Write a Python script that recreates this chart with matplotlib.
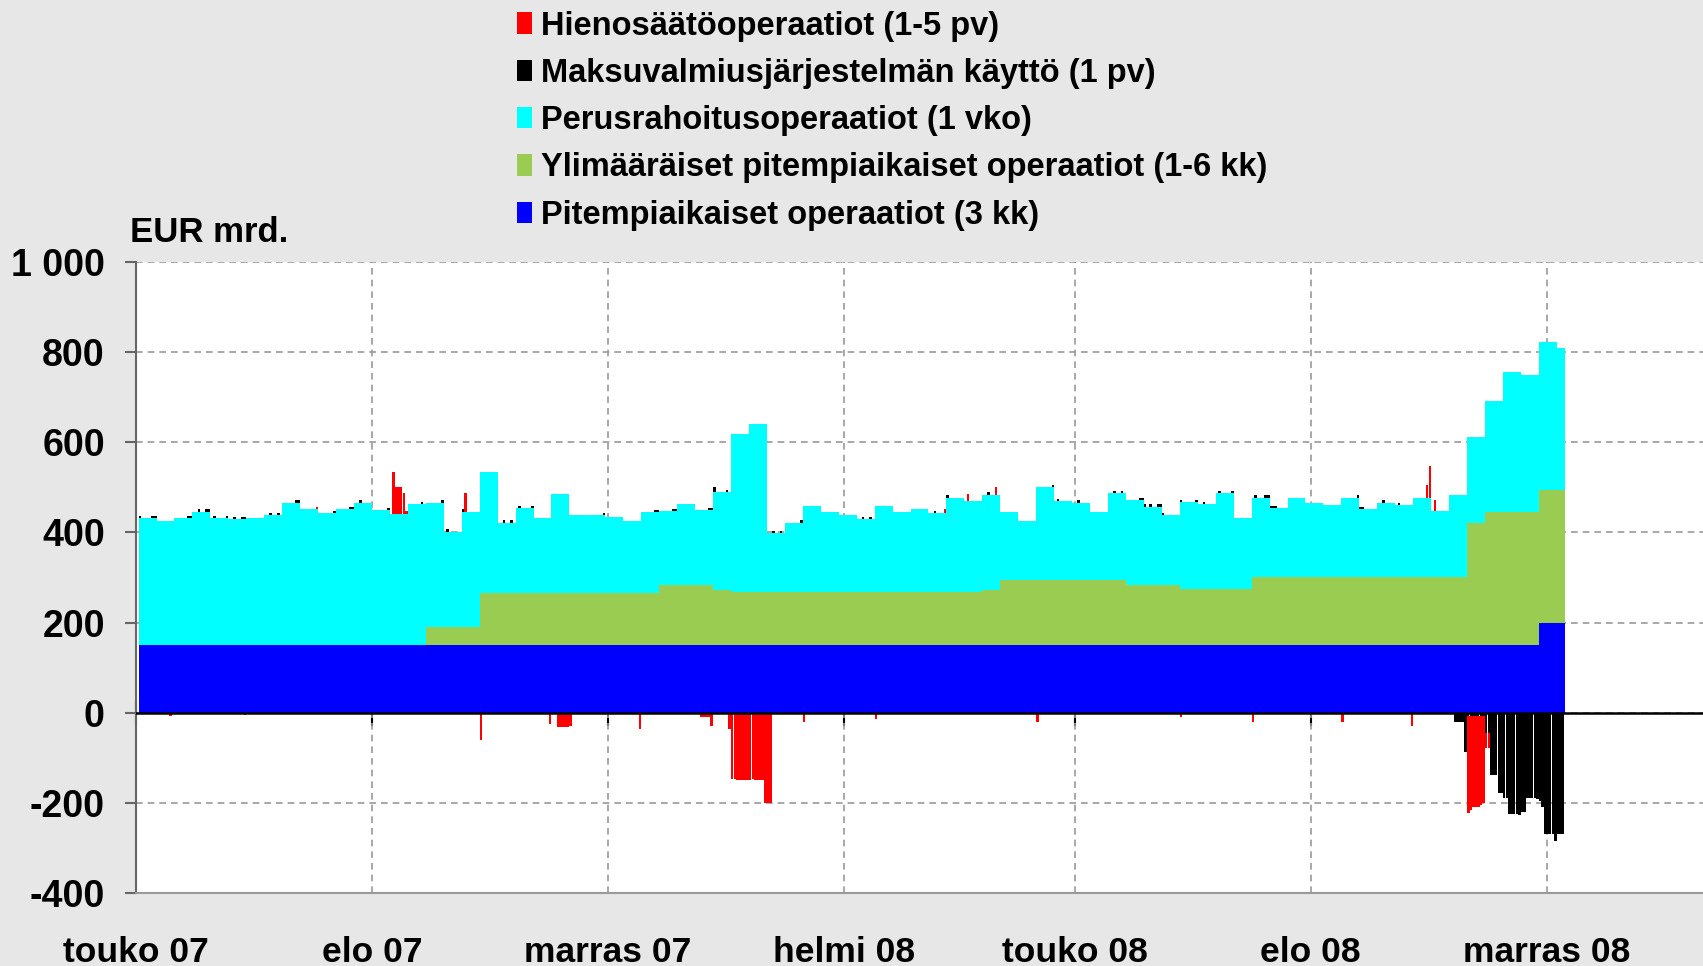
import numpy as np
import pandas as pd
import matplotlib
matplotlib.use("Agg")
import matplotlib.pyplot as plt
import matplotlib.dates as mdates
from matplotlib.patches import Patch

plt.rcParams['font.family'] = ['Liberation Sans', 'DejaVu Sans']
plt.rcParams['axes.unicode_minus'] = False

# ---------------- data (EUR bn) ----------------
first_week = "2007-05-02"          # weekly main refinancing settlement (Wednesdays)
data_end = "2008-11-08"

# Pitempiaikaiset operaatiot (3 kk) per week
ltro = [150, 150, 150, 150, 150, 150, 150, 150, 150, 150,
        150, 150, 150, 150, 150, 150, 150, 150, 150, 150,
        150, 150, 150, 150, 150, 150, 150, 150, 150, 150,
        150, 150, 150, 150, 150, 150, 150, 150, 150, 150,
        150, 150, 150, 150, 150, 150, 150, 150, 150, 150,
        150, 150, 150, 150, 150, 150, 150, 150, 150, 150,
        150, 150, 150, 150, 150, 150, 150, 150, 150, 150,
        150, 150, 150, 150, 150, 150, 150, 150, 200, 200]

# Ylimääräiset pitempiaikaiset operaatiot (1-6 kk) per week
sltro = [0, 0, 0, 0, 0, 0, 0, 0, 0, 0,
         0, 0, 0, 0, 0, 0, 40, 40, 40, 115,
         115, 115, 115, 115, 115, 115, 115, 115, 115, 133,
         133, 133, 122, 118, 118, 118, 118, 118, 118, 118,
         118, 118, 118, 118, 118, 118, 118, 122, 145, 145,
         145, 145, 145, 145, 145, 133, 133, 133, 125, 125,
         125, 125, 150, 150, 150, 150, 150, 150, 150, 150,
         150, 150, 150, 150, 270, 296, 296, 296, 294, 294]

# Perusrahoitusoperaatiot (1 vko) per week
mro = [281, 276, 281, 296, 282, 279, 283, 288, 316, 301,
       292, 302, 316, 300, 290, 312, 276, 212, 256, 268,
       157, 189, 166, 220, 174, 174, 169, 161, 180, 165,
       179, 167, 218, 350, 372, 131, 154, 190, 178, 170,
       161, 190, 178, 185, 174, 209, 202, 212, 151, 131,
       206, 175, 171, 151, 192, 189, 174, 156, 193, 188,
       212, 156, 177, 154, 177, 166, 161, 177, 151, 166,
       161, 177, 148, 182, 192, 246, 311, 303, 328, 316]

# Hienosäätöoperaatiot (1-5 pv), liquidity providing: start date, days, amount
ft_pos_dates = ["2007-07-10", "2007-08-09", "2007-08-10", "2007-08-13", "2007-08-14",
                "2007-09-06", "2008-03-11", "2008-03-20", "2008-03-31",
                "2008-09-15", "2008-09-16", "2008-09-18"]
ft_pos_days = [1, 1, 3, 1, 1, 1, 1, 1, 1, 1, 1, 1]
ft_pos_vals = [5, 95, 61, 48, 8, 42, 11, 16, 17, 28, 71, 25]

# Hienosäätöoperaatiot, liquidity absorbing
ft_neg_dates = ["2007-05-14", "2007-06-12", "2007-09-12", "2007-10-09", "2007-10-12",
                "2007-10-15", "2007-10-16", "2007-10-17", "2007-11-13", "2007-12-07",
                "2007-12-10", "2007-12-11", "2007-12-18", "2007-12-19", "2007-12-20",
                "2007-12-21", "2007-12-24", "2007-12-27", "2007-12-28", "2007-12-31",
                "2008-01-01", "2008-01-16", "2008-02-13", "2008-04-16", "2008-06-11",
                "2008-07-09", "2008-08-13", "2008-09-09", "2008-10-01", "2008-10-02",
                "2008-10-03", "2008-10-06", "2008-10-07", "2008-10-08", "2008-10-09"]
ft_neg_days = [1, 1, 1, 1, 3, 1, 1, 1, 1, 3,
               1, 1, 1, 1, 1, 3, 3, 1, 3, 1,
               3, 1, 1, 1, 1, 1, 1, 1, 1, 1,
               3, 1, 1, 1, 1]
ft_neg_vals = [-7, -4, -60, -24, -31, -32, -31, -29, -36, -9,
               -9, -29, -37, -148, -148, -150, -150, -148, -150, -150,
               -200, -20, -15, -20, -10, -20, -20, -30, -214, -207,
               -202, -197, -192, -33, -33]

# Maksuvalmiusjärjestelmän käyttö (1 pv): marginal lending (positive)
ml_dates = ["2007-05-02", "2007-05-07", "2007-05-08", "2007-05-21", "2007-05-22",
            "2007-05-25", "2007-05-28", "2007-05-29", "2007-05-31", "2007-06-05",
            "2007-06-08", "2007-06-11", "2007-06-12", "2007-06-22", "2007-06-25",
            "2007-07-02", "2007-07-03", "2007-07-17", "2007-07-23", "2007-07-24",
            "2007-07-27", "2007-08-07", "2007-08-20", "2007-08-28", "2007-08-30",
            "2007-09-05", "2007-09-21", "2007-09-24", "2007-09-27", "2007-10-02",
            "2007-10-30", "2007-11-19", "2007-11-20", "2007-11-26", "2007-11-27",
            "2007-12-10", "2007-12-11", "2007-12-12", "2007-12-17", "2008-01-04",
            "2008-01-07", "2008-01-15", "2008-02-08", "2008-02-11", "2008-03-07",
            "2008-03-12", "2008-03-28", "2008-04-22", "2008-04-24", "2008-05-02",
            "2008-05-16", "2008-05-19", "2008-05-26", "2008-05-27", "2008-05-28",
            "2008-05-30", "2008-06-02", "2008-06-03", "2008-06-04", "2008-06-11",
            "2008-06-17", "2008-06-20", "2008-06-26", "2008-07-01", "2008-07-10",
            "2008-07-14", "2008-07-15", "2008-07-16", "2008-07-17", "2008-07-18",
            "2008-08-19", "2008-08-20", "2008-08-21", "2008-08-29", "2008-09-04"]
ml_vals = [5, 5, 5, 5, 5, 5, 5, 5, 5, 5,
           5, 5, 5, 5, 5, 5, 5, 5, 5, 5,
           5, 5, 5, 5, 5, 5, 5, 5, 5, 5,
           5, 5, 5, 5, 5, 5, 5, 10, 5, 5,
           5, 5, 5, 5, 5, 5, 5, 5, 5, 5,
           5, 5, 5, 5, 5, 5, 5, 5, 5, 5,
           5, 5, 5, 5, 5, 5, 5, 5, 5, 5,
           5, 5, 5, 5, 5]

# deposit facility (negative)
df_dates = ["2008-09-26", "2008-09-29", "2008-09-30", "2008-10-01", "2008-10-02",
            "2008-10-03", "2008-10-06", "2008-10-07", "2008-10-08", "2008-10-09",
            "2008-10-10", "2008-10-13", "2008-10-14", "2008-10-15", "2008-10-16",
            "2008-10-17", "2008-10-20", "2008-10-21", "2008-10-22", "2008-10-23",
            "2008-10-24", "2008-10-27", "2008-10-28", "2008-10-29", "2008-10-30",
            "2008-10-31", "2008-11-03", "2008-11-04", "2008-11-05", "2008-11-06",
            "2008-11-07"]
df_days = [3, 1, 1, 1, 1, 3, 1, 1, 1, 1,
           3, 1, 1, 1, 1, 3, 1, 1, 1, 1,
           3, 1, 1, 1, 1, 3, 1, 1, 1, 1, 1]
df_vals = [-20, -20, -87, -8, -8, -8, -8, -8, -46, -46,
           -138, -178, -178, -190, -190, -225, -225, -228, -220, -220,
           -190, -190, -192, -195, -210, -268, -268, -285, -270, -268, -270]

tick_dates = ["2007-05-01", "2007-08-01", "2007-11-01", "2008-02-01",
              "2008-05-01", "2008-08-01", "2008-11-01"]
tick_labels = ["touko 07", "elo 07", "marras 07", "helmi 08",
               "touko 08", "elo 08", "marras 08"]
y_ticks = [-400, -200, 0, 200, 400, 600, 800, 1000]
y_labels = ["-400", "-200", "0", "200", "400", "600", "800", "1 000"]

legend_labels = ["Hienosäätöoperaatiot (1-5 pv)",
                 "Maksuvalmiusjärjestelmän käyttö (1 pv)",
                 "Perusrahoitusoperaatiot (1 vko)",
                 "Ylimääräiset pitempiaikaiset operaatiot (1-6 kk)",
                 "Pitempiaikaiset operaatiot (3 kk)"]

C_RED, C_BLACK, C_CYAN, C_GREEN, C_BLUE = "#ff0000", "#000000", "#00ffff", "#99cc50", "#0000ff"

# ---------------- derived ----------------
def dn(s):
    return mdates.date2num(pd.Timestamp(s))

weeks = pd.date_range(first_week, periods=len(mro), freq="7D")
wx = mdates.date2num(weeks)
ww = np.diff(np.append(wx, dn(data_end)))
ltro_a = np.array(ltro, float)
sltro_a = np.array(sltro, float)
mro_a = np.array(mro, float)
total = ltro_a + sltro_a + mro_a

def week_total(x):
    i = np.clip(np.searchsorted(wx, x, side="right") - 1, 0, len(wx) - 1)
    return total[i]

# ---------------- figure ----------------
W, H = 1703, 966
fig = plt.figure(figsize=(W / 100, H / 100), dpi=100, facecolor="#e6e7e6")
ax = fig.add_axes([136 / W, 1 - 893 / H, (W - 136) / W, (893 - 262) / H])
ax.set_facecolor("white")
ax.set_axisbelow(True)

kw = dict(align="edge", linewidth=0, zorder=2)
ax.bar(wx, ltro_a, ww, color=C_BLUE, **kw)
ax.bar(wx, sltro_a, ww, bottom=ltro_a, color=C_GREEN, **kw)
ax.bar(wx, mro_a, ww, bottom=ltro_a + sltro_a, color=C_CYAN, **kw)

# fine-tuning providing, on top of stack
px = np.array([dn(d) for d in ft_pos_dates])
ax.bar(px, ft_pos_vals, np.array(ft_pos_days) * 0.9, bottom=week_total(px),
       color=C_RED, align="edge", linewidth=0, zorder=3)

# marginal lending on top of stack
mx = np.array([dn(d) for d in ml_dates])
ax.bar(mx, ml_vals, 1.0, bottom=week_total(mx), color=C_BLACK,
       align="edge", linewidth=0, zorder=3)

# deposit facility below zero
dx = np.array([dn(d) for d in df_dates])
ax.bar(dx, df_vals, np.array(df_days) * 0.95, color=C_BLACK,
       align="edge", linewidth=0, zorder=3)
df_map = dict(zip(df_dates, df_vals))

# fine-tuning absorbing below deposit facility
nx = np.array([dn(d) for d in ft_neg_dates])
nbase = np.array([df_map.get(d, 0) for d in ft_neg_dates], float)
ax.bar(nx, ft_neg_vals, np.array(ft_neg_days) * 0.97, bottom=nbase,
       color=C_RED, align="edge", linewidth=0, zorder=3)

ax.axhline(0, color="black", lw=1.8, zorder=4)

# axes
ax.set_xlim(dn("2007-05-01"), dn("2009-01-01"))
ax.set_ylim(-400, 1000)
ax.set_yticks(y_ticks)
ax.set_yticklabels(y_labels, fontsize=27, fontweight="bold")
tx = [dn(d) for d in tick_dates]
ax.set_xticks(tx)
ax.set_xticklabels(tick_labels, fontsize=25.5, fontweight="bold")
ax.tick_params(axis="x", length=0, pad=31)
ax.tick_params(axis="y", direction="out", length=8, width=1.5, color="#666666", pad=14.5)
ax.grid(True, linestyle=(0, (4, 3)), color="#9a9a9a", lw=1.2)

for s in ["top", "right"]:
    ax.spines[s].set_visible(False)
ax.spines["left"].set_color("#666666")
ax.spines["left"].set_linewidth(1.5)
ax.spines["bottom"].set_color("#9a9a9a")
ax.spines["bottom"].set_linewidth(1.5)

sec = ax.secondary_xaxis(400 / 1400)
sec.set_xticks(tx)
sec.tick_params(axis="x", direction="inout", length=18, width=1.5, color="black",
                labelbottom=False)
sec.spines["bottom"].set_visible(False)

fig.text(130 / W, 1 - 232 / H, "EUR mrd.", fontsize=25, fontweight="bold",
         va="center", ha="left")

handles = [Patch(facecolor=c, edgecolor="none") for c in [C_RED, C_BLACK, C_CYAN, C_GREEN, C_BLUE]]
fig.legend(handles, legend_labels, loc="upper left", bbox_to_anchor=(517 / W, 1 - 10.5 / H),
           frameon=False, prop=dict(size=23.5, weight="bold"), handlelength=0.45,
           handleheight=0.62, handletextpad=0.3, labelspacing=0.5,
           borderpad=0, borderaxespad=0)

fig.savefig("out.png", dpi=100, facecolor=fig.get_facecolor())
